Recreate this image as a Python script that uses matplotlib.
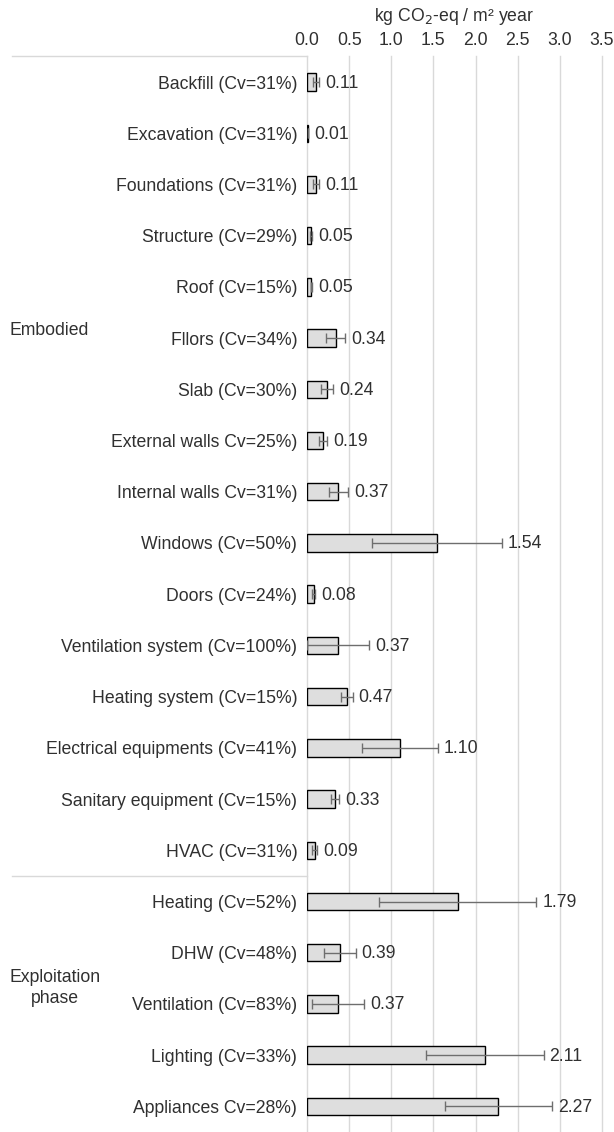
import matplotlib.pyplot as plt
import numpy as np

plt.rcParams['font.family'] = ['Liberation Sans', 'DejaVu Sans']

# categories, top to bottom
labels = ["Backfill (Cv=31%)", "Excavation (Cv=31%)", "Foundations (Cv=31%)",
          "Structure (Cv=29%)", "Roof (Cv=15%)", "Fllors (Cv=34%)", "Slab (Cv=30%)",
          "External walls Cv=25%)", "Internal walls Cv=31%)", "Windows (Cv=50%)",
          "Doors (Cv=24%)", "Ventilation system (Cv=100%)", "Heating system (Cv=15%)",
          "Electrical equipments (Cv=41%)", "Sanitary equipment (Cv=15%)", "HVAC (Cv=31%)",
          "Heating (Cv=52%)", "DHW (Cv=48%)", "Ventilation (Cv=83%)",
          "Lighting (Cv=33%)", "Appliances Cv=28%)"]
values = [0.11, 0.01, 0.11, 0.05, 0.05, 0.34, 0.24, 0.19, 0.37, 1.54, 0.08,
          0.37, 0.47, 1.10, 0.33, 0.09, 1.79, 0.39, 0.37, 2.11, 2.27]
cv = [0.31, 0.31, 0.31, 0.29, 0.15, 0.34, 0.30, 0.25, 0.31, 0.50, 0.24,
      1.00, 0.15, 0.41, 0.15, 0.31, 0.52, 0.48, 0.83, 0.33, 0.28]
groups = ["Embodied", "Exploitation\nphase"]
n_embodied = 16

values = np.array(values)
err = values * np.array(cv)
y = np.arange(len(labels))

text_col = '#303030'
grid_col = '#d9d9d9'
fs = 12.7

fig = plt.figure(figsize=(6.14, 11.32), dpi=100)
ax = fig.add_axes([307 / 614, 0.0, 295 / 614, 1 - 56.4 / 1132])

ax.barh(y, values, height=0.34, color='#dedede', edgecolor='black', linewidth=1, zorder=3)
ax.errorbar(values, y, xerr=err, fmt='none', ecolor='#6e6e6e', elinewidth=1,
            capsize=3.5, capthick=1, zorder=4)

for yi, v, e in zip(y, values, err):
    ax.annotate(f"{v:.2f}", (v + e, yi), xytext=(6, -1), textcoords='offset pixels',
                ha='left', va='center', fontsize=fs, color=text_col)

ax.set_xlim(0, 3.5)
ax.set_ylim(len(labels) - 0.5, -0.5)
ax.set_xticks(np.arange(0, 3.51, 0.5))
ax.set_xticklabels([f"{t:.1f}" for t in np.arange(0, 3.51, 0.5)])
ax.xaxis.tick_top()
ax.xaxis.set_label_position('top')
ax.set_xlabel("kg CO$_2$-eq / m² year", fontsize=fs, color=text_col, labelpad=8)
ax.set_yticks(y)
ax.set_yticklabels(labels)
ax.tick_params(axis='both', length=0, labelsize=fs, labelcolor=text_col)
ax.tick_params(axis='y', pad=7)
ax.tick_params(axis='x', pad=5)
for s in ax.spines.values():
    s.set_visible(False)
ax.grid(axis='x', color=grid_col, linewidth=1, zorder=0)
for gl in ax.get_xgridlines():
    gl.set_clip_on(False)

# group separators and group labels
tr = ax.get_yaxis_transform()
for yy in [-0.5, n_embodied - 0.5]:
    ax.plot([-1.0, 0], [yy, yy], color=grid_col, linewidth=1, transform=tr, clip_on=False)
ax.text(-1.007, 4.86, groups[0], transform=tr, ha='left', va='center',
        fontsize=fs, color=text_col)
ax.text(-0.854, 17.68, groups[1], transform=tr, ha='center', va='center',
        fontsize=fs, color=text_col, multialignment='center', linespacing=1.3)

fig.savefig("out.png", dpi=100)
